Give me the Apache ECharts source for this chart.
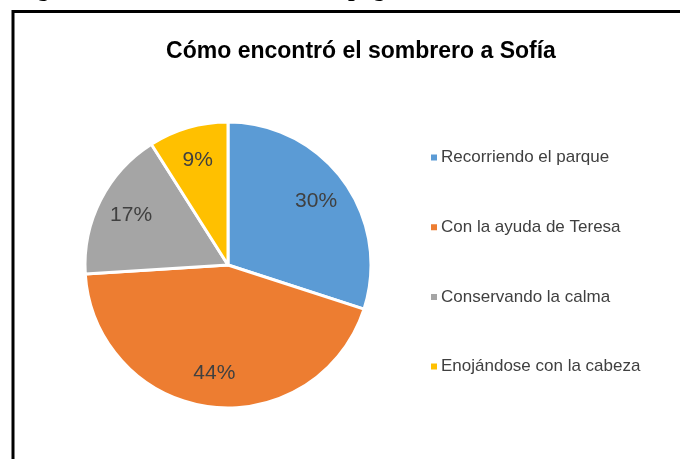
<!DOCTYPE html>
<html><head><meta charset="utf-8">
<script src="https://cdn.jsdelivr.net/npm/echarts@6/dist/echarts.min.js"></script>
<style>html,body{margin:0;padding:0;background:#fff}#c{width:680px;height:459px}</style>
</head><body><div id="c"></div>
<script>
const categories = ["Recorriendo el parque", "Con la ayuda de Teresa", "Conservando la calma", "Enojándose con la cabeza"];
const values = [30, 44, 17, 9];
const colors = ["#5B9BD5", "#ED7D31", "#A5A5A5", "#FFC000"];
const titleText = "Cómo encontró el sombrero a Sofía";

const chart = echarts.init(document.getElementById('c'), null, {renderer: 'canvas'});
const data = categories.map((n, i) => ({name: n, value: values[i], itemStyle: {color: colors[i]}}));
const cx = 228, cy = 265, R = 143;
chart.setOption({
  animation: false,
  title: {text: titleText, left: 356, top: 35, textAlign: 'center',
    textStyle: {fontFamily: 'Liberation Sans', fontWeight: 'bold', fontSize: 23, color: '#000'}},
  legend: {orient: 'vertical', left: 424, top: 144, itemGap: 52.7, icon: 'rect', itemWidth: 8, itemHeight: 8,
    data: categories,
    textStyle: {fontFamily: 'Liberation Sans', fontSize: 17, color: '#404040', padding: [0, 0, 0, -2]}},
  graphic: [
    {type: 'rect', shape: {x: 13, y: 11.5, width: 720, height: 520}, style: {fill: null, stroke: '#000', lineWidth: 3}, silent: true},
    {type: 'text', left: 16, top: -22, style: {text: 'Figura', font: 'bold 24px "Liberation Serif"', fill: '#000'}},
    {type: 'text', left: 348, top: -22, style: {text: 'página', font: 'bold 24px "Liberation Serif"', fill: '#000'}}
  ],
  series: [
    {type: 'pie', center: [cx, cy], radius: [0, R], startAngle: 90, clockwise: true,
      data: data, label: {show: false}, labelLine: {show: false},
      itemStyle: {borderColor: '#fff', borderWidth: 3}, silent: true},
    {type: 'pie', center: [cx, cy], radius: [0, R * 1.48], startAngle: 90, clockwise: true,
      data: data.map(d => ({name: d.name, value: d.value, itemStyle: {color: 'rgba(0,0,0,0)'}})),
      legendHoverLink: false, silent: true, z: 5,
      label: {show: true, position: 'inside', formatter: p => p.value + '%',
        fontFamily: 'Liberation Sans', fontSize: 21, color: '#404040'},
      labelLine: {show: false}, itemStyle: {borderWidth: 0}}
  ]
});
</script></body></html>
